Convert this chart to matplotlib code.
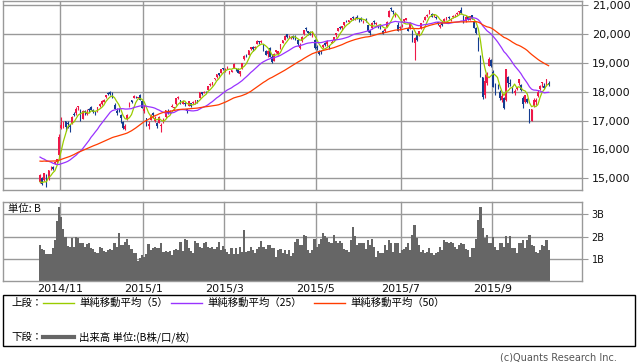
import numpy as np
import pandas as pd
import matplotlib
matplotlib.use("Agg")
import matplotlib.pyplot as plt
from matplotlib.lines import Line2D
from matplotlib.patches import Rectangle

# ---------------- data ----------------
# closes before the first drawn day (used only to seed the moving averages)
prior_closes = [15066, 14778, 15130, 15161, 15213, 15314, 15318, 15322, 15450, 15454,
                15586, 15539, 15614, 15522, 15535, 15460, 15425, 15476, 15669, 15728,
                15677, 15669, 15705, 15750, 15789, 15909, 15948, 15911, 15888, 16067,
                16321, 16205, 16167, 16375, 16229, 16311, 16174, 16082, 15661, 15709,
                15891, 15784, 15596, 15479, 15300, 14937, 15073, 14738, 14533]

opens = [
    # 2014/10
    14870, 15010, 14930, 15120, 14960, 15380, 15400, 15510, 15570, 15810,
    # 2014/11
    16750, 16800, 16990, 16920, 16800, 16900, 17220, 17270, 17460, 17340, 17050, 17340, 17230, 17390, 17470, 17380, 17260, 17330,
    # 2014/12
    17520, 17560, 17650, 17830, 17950, 18000, 17940, 17550, 17320, 17380, 17200, 16950, 16700, 17050, 17500, 17700, 17800, 17830, 17800, 17900, 17680,
    # 2015/1
    17325, 17100, 16800, 17030, 17280, 17000, 16900, 16900, 16800, 17000, 17120, 17320, 17250, 17480, 17450, 17560, 17790, 17700, 17580,
    # 2015/2
    17600, 17400, 17520, 17600, 17600, 17600, 17700, 17800, 17980, 17960, 18000, 18050, 18250, 18270, 18440, 18500, 18640, 18650, 18800,
    # 2015/3
    18810, 18810, 18700, 18700, 18840, 18800, 18800, 18600, 18800, 19150, 19250, 19290, 19480, 19560, 19500, 19660, 19760, 19710, 19650, 19400, 19300, 19500,
    # 2015/4
    19200, 19050, 19380, 19320, 19500, 19700, 19800, 20000, 19900, 19850, 19920, 19900, 19800, 19500, 19750, 19990, 20200, 20100, 20080, 19950, 19800,
    # 2015/5
    19550, 19400, 19400, 19550, 19700, 19650, 19600, 19700, 19800, 19950, 20100, 20250, 20200, 20300, 20440, 20400, 20500, 20600,
    # 2015/6
    20550, 20600, 20500, 20550, 20400, 20500, 20300, 20150, 20200, 20450, 20350, 20300, 20250, 20100, 20090, 20250, 20600, 20900, 20800, 20650, 20300, 20200,
    # 2015/7
    20300, 20450, 20500, 20200, 20200, 20100, 19700, 20000, 19950, 20200, 20450, 20500, 20640, 20750, 20700, 20650, 20600, 20400, 20250, 20400, 20450, 20550,
    # 2015/8
    20600, 20500, 20600, 20650, 20680, 20750, 20850, 20600, 20450, 20600, 20500, 20650, 20400, 20200, 19850, 19200, 18500, 17900, 18300, 18900, 19100,
    # 2015/9
    18700, 18200, 18200, 18000, 17700, 17800, 17700, 18500, 18300, 18150, 17950, 18100, 18300, 18250, 17800, 17650, 17750, 17400, 17000,
    # 2015/10
    17500, 17650, 17850, 18100, 18300, 18200, 18250, 18300,
]
highs = [
    15138, 15060, 15196, 15160, 15300, 15410, 15420, 15610, 15660, 16533,
    17127, 17000, 17000, 16980, 16880, 17150, 17300, 17458, 17520, 17400, 17380, 17360, 17390, 17420, 17510, 17410, 17320, 17480,
    17620, 17700, 17760, 17900, 17990, 18030, 17980, 17600, 17440, 17450, 17240, 17000, 16880, 17230, 17640, 17730, 17880, 17840, 17830, 17910, 17690,
    17540, 17100, 16970, 17244, 17290, 17160, 16950, 17150, 16900, 17100, 17380, 17410, 17380, 17560, 17480, 17800, 17850, 17710, 17700,
    17660, 17410, 17680, 17620, 17680, 17720, 17720, 17990, 18000, 18030, 18030, 18200, 18300, 18340, 18470, 18610, 18650, 18790, 18830,
    18830, 18880, 18720, 18760, 18990, 18830, 18820, 18730, 19000, 19260, 19300, 19450, 19560, 19590, 19600, 19780, 19770, 19780, 19660, 19430, 19430, 19540,
    19300, 19330, 19450, 19420, 19650, 19810, 19950, 20007, 19980, 19940, 19970, 19950, 19820, 19700, 19920, 20140, 20250, 20100, 20100, 20100, 19830,
    19620, 19450, 19440, 19650, 19740, 19800, 19630, 19780, 19900, 20030, 20200, 20290, 20270, 20420, 20480, 20490, 20570, 20610,
    20580, 20650, 20550, 20600, 20500, 20550, 20320, 20150, 20400, 20480, 20420, 20330, 20320, 20130, 20200, 20440, 20820, 20952, 20850, 20750, 20400, 20290,
    20360, 20530, 20550, 20250, 20400, 20150, 19900, 20050, 20100, 20390, 20480, 20620, 20690, 20850, 20730, 20700, 20620, 20420, 20350, 20450, 20550, 20600,
    20640, 20560, 20650, 20680, 20760, 20810, 20946, 20650, 20650, 20640, 20640, 20660, 20450, 20250, 19900, 19260, 18500, 18600, 18670, 19200, 19150,
    18750, 18320, 18260, 18060, 17950, 17830, 18770, 18550, 18450, 18200, 18100, 18180, 18450, 18270, 17850, 17900, 17800, 17400, 17400,
    17800, 17800, 18050, 18220, 18350, 18300, 18450, 18380,
]
lows = [
    14846, 14760, 14910, 14713, 14950, 15280, 15300, 15500, 15520, 15740,
    16720, 16750, 16650, 16760, 16600, 16880, 17150, 17200, 17380, 16970, 17050, 17200, 17200, 17290, 17350, 17250, 17190, 17310,
    17480, 17540, 17630, 17780, 17870, 17880, 17780, 17390, 17190, 17300, 16900, 16720, 16670, 17020, 17480, 17600, 17780, 17780, 17770, 17720, 17420,
    17280, 16809, 16710, 17010, 17100, 16940, 16760, 16900, 16590, 16920, 17100, 17230, 17220, 17470, 17370, 17550, 17740, 17580, 17560,
    17520, 17270, 17500, 17460, 17560, 17560, 17600, 17790, 17870, 17950, 17940, 18050, 18210, 18230, 18390, 18490, 18560, 18640, 18760,
    18700, 18780, 18630, 18670, 18830, 18730, 18650, 18560, 18780, 19090, 19200, 19270, 19430, 19410, 19480, 19640, 19650, 19690, 19410, 19260, 19200, 19190,
    19000, 19050, 19350, 19280, 19480, 19690, 19790, 19860, 19850, 19830, 19820, 19800, 19600, 19480, 19740, 19970, 20100, 19980, 19950, 19900, 19470,
    19460, 19260, 19300, 19530, 19590, 19600, 19480, 19690, 19760, 19900, 20100, 20180, 20150, 20290, 20400, 20380, 20490, 20470,
    20480, 20520, 20420, 20450, 20380, 20400, 20080, 19980, 20180, 20350, 20330, 20200, 20180, 19990, 20060, 20240, 20600, 20800, 20700, 20600, 20100, 20150,
    20260, 20420, 20470, 20090, 20180, 19720, 19115, 19760, 19940, 20180, 20400, 20480, 20600, 20700, 20580, 20600, 20520, 20300, 20200, 20280, 20420, 20500,
    20530, 20460, 20570, 20600, 20660, 20700, 20700, 20390, 20400, 20500, 20480, 20520, 20200, 20000, 19400, 18500, 17750, 17780, 18250, 18880, 18850,
    18150, 17900, 18080, 17720, 17650, 17410, 17680, 18150, 18200, 17950, 17900, 18050, 18250, 18020, 17450, 17600, 17600, 16900, 16990,
    17480, 17550, 17820, 18050, 18180, 18100, 18200, 18200,
]
closes = [
    15112, 14804, 15196, 14738, 15292, 15389, 15330, 15554, 15658, 16414,
    16862, 16937, 16792, 16880, 16781, 17124, 17197, 17393, 17491, 16974, 17344, 17289, 17301, 17358, 17384, 17308, 17249, 17460,
    17590, 17663, 17720, 17887, 17920, 17936, 17813, 17413, 17257, 17372, 17099, 16755, 16820, 17210, 17621, 17635, 17854, 17809, 17819, 17730, 17451,
    17409, 16883, 16885, 17167, 17198, 17088, 16796, 17109, 16864, 17014, 17366, 17280, 17329, 17512, 17469, 17768, 17796, 17606, 17674,
    17558, 17336, 17679, 17505, 17649, 17712, 17653, 17980, 17913, 18005, 17987, 18199, 18265, 18332, 18467, 18603, 18585, 18786, 18798,
    18827, 18815, 18704, 18752, 18971, 18791, 18665, 18724, 18991, 19254, 19246, 19437, 19544, 19477, 19560, 19754, 19713, 19746, 19471, 19286, 19411, 19207,
    19035, 19313, 19435, 19398, 19641, 19790, 19938, 19908, 19905, 19909, 19870, 19886, 19653, 19634, 19909, 20134, 20188, 20020, 19983, 20059, 19520,
    19532, 19292, 19379, 19621, 19625, 19765, 19570, 19733, 19890, 20026, 20197, 20203, 20264, 20414, 20437, 20473, 20551, 20563,
    20570, 20543, 20474, 20488, 20461, 20457, 20096, 20046, 20383, 20407, 20388, 20258, 20219, 19991, 20174, 20428, 20809, 20868, 20771, 20706, 20110, 20236,
    20329, 20523, 20540, 20112, 20377, 19738, 19855, 19780, 20090, 20385, 20463, 20600, 20651, 20842, 20594, 20684, 20545, 20350, 20329, 20303, 20523, 20585,
    20548, 20520, 20614, 20664, 20725, 20809, 20721, 20393, 20596, 20519, 20620, 20554, 20223, 20034, 19436, 18541, 17807, 18377, 18574, 19136, 18890,
    18166, 18095, 18182, 17792, 17860, 17427, 18771, 18300, 18264, 17966, 18026, 18172, 18432, 18070, 17572, 17881, 17645, 16931, 17388,
    17722, 17725, 18005, 18186, 18323, 18141, 18439, 18235,
]
# volume, billions of shares
volumes = [
    1.62, 1.45, 1.40, 1.22, 1.22, 1.22, 1.47, 1.85, 2.72, 3.32,
    2.87, 2.35, 2.00, 1.58, 1.52, 1.92, 1.55, 1.97, 1.92, 1.70, 1.73, 1.55, 1.67, 1.70, 1.47, 1.43, 1.32, 1.28,
    1.55, 1.47, 1.37, 1.32, 1.40, 1.43, 1.40, 1.70, 1.55, 2.15, 1.62, 1.62, 1.77, 1.88, 1.62, 1.43, 1.28, 1.28, 0.92, 1.02, 1.17,
    1.07, 1.22, 1.67, 1.40, 1.47, 1.55, 1.47, 1.50, 1.72, 1.32, 1.37, 1.32, 1.37, 1.16, 1.40, 1.43, 1.40, 1.76, 1.37,
    1.88, 1.85, 1.47, 1.37, 1.28, 1.80, 1.73, 1.55, 1.47, 1.70, 1.76, 1.55, 1.47, 1.55, 1.43, 1.55, 1.76, 1.40, 1.58,
    1.43, 1.32, 1.22, 1.47, 1.22, 1.47, 1.22, 1.52, 1.30, 2.30, 1.32, 1.35, 1.52, 1.40, 1.28, 1.43, 1.55, 1.80, 1.55, 1.43, 1.62, 1.62,
    1.50, 1.47, 1.07, 1.40, 1.43, 1.25, 1.40, 1.22, 1.40, 1.12, 1.25, 1.77, 1.88, 1.62, 1.62, 2.07, 2.03, 1.40,
    1.28, 1.40, 1.88, 1.55, 1.67, 1.88, 2.15, 2.03, 1.92, 1.77, 1.70, 2.07, 1.82, 1.73, 1.82, 1.73, 1.43, 1.40, 1.32, 1.85, 2.45,
    2.03, 1.62, 1.73, 1.73, 1.70, 1.43, 1.85, 1.62, 1.88, 1.55, 1.10, 1.37, 1.25, 1.28, 1.62, 1.40, 1.85, 1.70, 1.32, 1.70, 1.73, 1.28,
    1.40, 1.43, 1.55, 1.70, 1.40, 2.07, 2.53, 1.92, 1.62, 1.32, 1.40, 1.25, 1.32, 1.47, 1.28, 1.17, 1.28, 1.32, 1.55, 1.40, 1.85, 1.77,
    1.73, 1.77, 1.70, 1.55, 1.43, 1.62, 1.70, 1.67, 1.43, 1.40, 1.10, 1.47, 1.47, 1.88, 2.75, 3.35, 2.38, 1.92, 2.07, 1.73, 1.70,
    2.00, 1.55, 1.40, 1.73, 1.70, 1.55, 2.03, 1.73, 2.03, 1.47, 1.47, 1.28, 1.70, 1.73, 1.85, 1.47, 1.85, 2.07, 1.62,
    1.58, 1.32, 1.25, 1.40, 1.62, 1.58, 1.85, 1.38,
]
month_labels = ["2014/11", "2015/1", "2015/3", "2015/5", "2015/7", "2015/9"]
month_first_index = [10, 49, 87, 130, 170, 213]
price_ticks = [15000, 16000, 17000, 18000, 19000, 20000, 21000]
volume_ticks = [1, 2, 3]
ma_periods = [5, 25, 50]
ma_labels = ["単純移動平均（5）", "単純移動平均（25）", "単純移動平均（50）"]

# ---------------- styling ----------------
W, H = 638, 362
JP = ["Noto Sans CJK JP", "DejaVu Sans"]
UP, DOWN = "#ee1848", "#143c90"
MA_COLORS = ["#99cc00", "#9933ff", "#ff3c00"]
GRID = "#999999"
VOLC = "#666666"

fig = plt.figure(figsize=(W / 100, H / 100), dpi=100)
fig.patch.set_facecolor("white")


def fx(px):
    return px / W


def fy(py):
    return 1 - py / H


ax_p = fig.add_axes([fx(3), fy(190), fx(579), 189 / H])
ax_v = fig.add_axes([fx(3), fy(281), fx(579), 79.5 / H])

n = len(closes)
x = np.arange(n)
o = np.array(opens, float)
h = np.array(highs, float)
l = np.array(lows, float)
c = np.array(closes, float)
colors = [UP if cc >= oo else DOWN for oo, cc in zip(o, c)]

xlim = (-17.4, 254.7)
grid_x = [m - 0.5 for m in month_first_index]

# price panel
for gx in grid_x:
    ax_p.axvline(gx, color=GRID, lw=1.0, zorder=0)
for t in price_ticks:
    ax_p.axhline(t, color=GRID, lw=1.0, zorder=0)
ax_p.vlines(x, l, h, colors=colors, lw=0.8, zorder=2)
body_b = np.minimum(o, c)
body_h = np.maximum(np.abs(c - o), 12)
ax_p.bar(x, body_h, bottom=body_b, width=0.8, color=colors, lw=0, zorder=2)

full = pd.Series(prior_closes + closes, dtype=float)
for per, col in zip(ma_periods, MA_COLORS):
    ma = full.rolling(per).mean().to_numpy()[-n:]
    ax_p.plot(x, ma, color=col, lw=0.9, zorder=3)

ax_p.set_xlim(*xlim)
ax_p.set_ylim(14594, 21145)
ax_p.yaxis.tick_right()
ax_p.set_yticks(price_ticks)
ax_p.set_yticklabels([f"{t:,}" for t in price_ticks])
ax_p.tick_params(axis="y", length=4, color=GRID, pad=3, labelsize=8, labelcolor="#111111")
ax_p.set_xticks([])
for s in ax_p.spines.values():
    s.set_color(GRID)
    s.set_linewidth(1.0)

# volume panel
for gx in grid_x:
    ax_v.axvline(gx, color=GRID, lw=1.0, zorder=0)
for t in volume_ticks:
    ax_v.axhline(t, color=GRID, lw=1.0, zorder=0)
ax_v.bar(x, volumes, width=1.0, color=VOLC, lw=0, zorder=2)
ax_v.set_xlim(*xlim)
ax_v.set_ylim(0, 3.58)
ax_v.yaxis.tick_right()
ax_v.set_yticks(volume_ticks)
ax_v.set_yticklabels([f"{t}B" for t in volume_ticks])
ax_v.tick_params(axis="y", length=4, color=GRID, pad=3, labelsize=7, labelcolor="#111111")
ax_v.set_xticks(grid_x)
ax_v.set_xticklabels(month_labels)
ax_v.tick_params(axis="x", length=0, pad=2, labelsize=8, labelcolor="#111111")
for s in ax_v.spines.values():
    s.set_color(GRID)
    s.set_linewidth(1.0)

fig.text(fx(8), fy(209), "単位: B", family=JP, fontsize=7.5, va="center", ha="left", color="#111111")

# legend box
fig.patches.append(Rectangle((fx(3), fy(346)), fx(632), 51 / H, transform=fig.transFigure,
                             fill=False, edgecolor="black", lw=1.0))
fig.text(fx(11), fy(303), "上段：", family=JP, fontsize=7.5, va="center", ha="left")
line_starts = [43, 171, 314]
for xs, col, lab in zip(line_starts, MA_COLORS, ma_labels):
    fig.lines.append(Line2D([fx(xs), fx(xs + 31)], [fy(303), fy(303)], transform=fig.transFigure,
                            color=col, lw=1.0))
    fig.text(fx(xs + 36), fy(303), lab, family=JP, fontsize=7.5, va="center", ha="left")
fig.text(fx(11), fy(337), "下段：", family=JP, fontsize=7.5, va="center", ha="left")
fig.lines.append(Line2D([fx(43), fx(74)], [fy(337), fy(337)], transform=fig.transFigure,
                        color=VOLC, lw=3.0))
fig.text(fx(79), fy(337), "出来高 単位:(B株/口/枚)", family=JP, fontsize=7.5, va="center", ha="left")

fig.text(fx(617), fy(357), "(c)Quants Research Inc.", fontsize=7, va="center", ha="right", color="#555555")

fig.savefig("out.png", dpi=100, facecolor="white")
